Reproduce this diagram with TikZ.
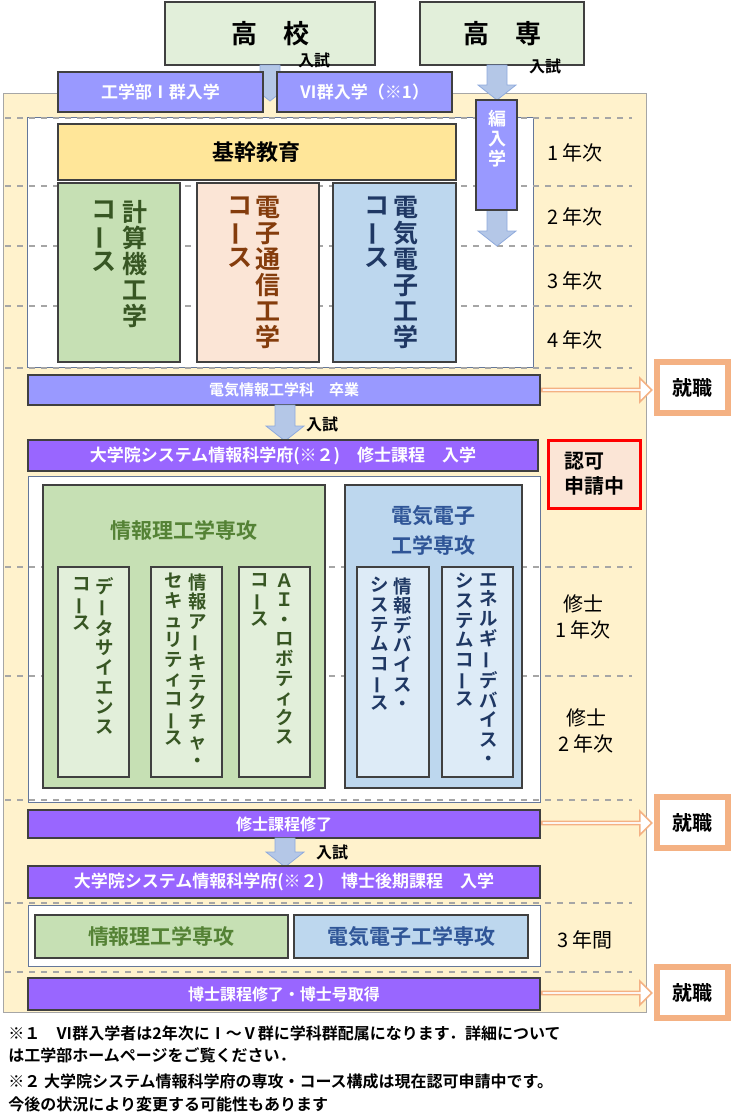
\documentclass[tikz,border=0pt]{standalone}
\usepackage{fontspec}
\usepackage{graphicx}
\setmainfont{Noto Sans CJK JP}
\newfontfamily\gfont{Noto Sans CJK JP}[BoldFont={* Bold}]
\usetikzlibrary{shapes.arrows}

\definecolor{cream}{HTML}{FFF2CC}
\definecolor{lgreen}{HTML}{E2EFDA}
\definecolor{lavender}{HTML}{9999FF}
\definecolor{violet}{HTML}{9966FF}
\definecolor{gold}{HTML}{FFE699}
\definecolor{cgreen}{HTML}{C6E0B4}
\definecolor{cpeach}{HTML}{FBE5D6}
\definecolor{cblue}{HTML}{BDD7EE}
\definecolor{pgreen}{HTML}{E2EFDA}
\definecolor{pblue}{HTML}{DDEBF7}
\definecolor{tgreen}{HTML}{375623}
\definecolor{tgreenl}{HTML}{548235}
\definecolor{tbrown}{HTML}{843C0C}
\definecolor{tnavy}{HTML}{1F3864}
\definecolor{tblue}{HTML}{2F5597}
\definecolor{arrowfill}{HTML}{B4C7E7}
\definecolor{arrowline}{HTML}{8FAADC}
\definecolor{orng}{HTML}{F4B183}

% box from corner (x1,y1) to (x2,y2), in pixels
\newcommand\bx[7]{\node[#1, minimum width={(#5-#3)*0.5pt}, minimum height={(#6-#4)*0.5pt}]
  (#2) at ({(#3+#5)/2},{(#4+#6)/2}) {#7};}
% fat down arrow at x from y1 to y2
\newcommand\dn[3]{\draw[arrowline, fill=arrowfill] ({#1-10},#2) -- ({#1+10},#2) -- ({#1+10},{#3-15})
  -- ({#1+19},{#3-15}) -- (#1,#3) -- ({#1-19},{#3-15}) -- ({#1-10},{#3-15}) -- cycle;}
\newcommand\vb{\rotatebox[origin=c]{90}{ー}}

\begin{document}
\begin{tikzpicture}[x=0.5pt, y=-0.5pt,
  base/.style = {inner sep=0pt, outer sep=0pt, font=\gfont\bfseries},
  plain/.style = {base, draw=black!75, thick},
  bar/.style = {base, draw=black!75, thick, text=white},
  frame/.style = {base, draw=arrowline!70!black},
  vtext/.style = {inner sep=0pt, align=center, anchor=north},
  year/.style = {inner sep=0pt, font=\fontsize{10}{13}\selectfont, align=center},
  job/.style = {base, draw=orng, line width=3pt, fill=white, font=\gfont\bfseries\fontsize{10}{12}\selectfont},
  grid/.style = {gray!70, dashed, thick},
  jobarrow/.style = {single arrow, draw=orng, fill=white, thick, inner sep=0pt,
    minimum width=12pt, single arrow head extend=2.5pt},
  tag/.style = {inner sep=0pt, font=\gfont\bfseries\fontsize{8}{10}\selectfont},
]
\useasboundingbox (0,0) rectangle (732,1116);

% background
\bx{base, draw=gray!70, fill=cream}{bg}{3}{93}{646}{1012}{}
\bx{frame, fill=white}{ugbox}{27}{117}{533}{367}{}
\bx{frame, fill=white}{msbox}{28}{476}{540}{802}{}
\bx{frame, fill=white}{drbox}{28}{905}{540}{966}{}

% year grid
\foreach \y in {118,186,246,306,368,567,676,800,903,972}
  \draw[grid] (5,\y) -- (632,\y);

% entrance
\bx{plain, fill=lgreen, font=\gfont\bfseries\fontsize{13}{15}\selectfont}{hs}{165}{2}{375}{65}{高　校}
\bx{plain, fill=lgreen, font=\gfont\bfseries\fontsize{13}{15}\selectfont}{kosen}{420}{2}{584}{65}{高　専}
\dn{270}{65}{101}
\node[tag] at (314,60) {入試};
\dn{497}{65}{100}
\node[tag] at (545,66) {入試};

\bx{bar, fill=lavender, font=\gfont\bfseries\fontsize{8.5}{10}\selectfont}{g1}{58}{72}{263}{112}{工学部Ⅰ群入学}
\bx{bar, fill=lavender, font=\gfont\bfseries\fontsize{8.5}{10}\selectfont}{g6}{277}{72}{452}{112}{Ⅵ群入学（※1）}
\dn{497}{205}{246}
\bx{bar, fill=lavender}{trans}{476}{100}{517}{210}{}
\node[vtext, text=white, font=\gfont\bfseries\fontsize{9}{10}\selectfont] at (497,110) {編\\入\\学};

% undergraduate
\bx{plain, fill=gold, font=\gfont\bfseries\fontsize{11}{13}\selectfont}{core}{58}{124}{456}{180}{基幹教育}
\bx{plain, fill=cgreen}{c1}{58}{183}{180}{362}{}
\bx{plain, fill=cpeach}{c2}{197}{183}{319}{362}{}
\bx{plain, fill=cblue}{c3}{333}{183}{456}{362}{}
\begin{scope}[font=\gfont\bfseries\fontsize{12.5}{13}\selectfont]
  \node[vtext, text=tgreen] at (135,200) {計\\算\\機\\工\\学};
  \node[vtext, text=tgreen] at (104,200) {コ\\\vb\\ス};
  \node[vtext, text=tbrown] at (268,196) {電\\子\\通\\信\\工\\学};
  \node[vtext, text=tbrown] at (240,196) {コ\\\vb\\ス};
  \node[vtext, text=tnavy] at (406,196) {電\\気\\電\\子\\工\\学};
  \node[vtext, text=tnavy] at (377,196) {コ\\\vb\\ス};
\end{scope}
\node[year] (y1) at (575,153) {1 年次};
\node[year] (y2) at (575,217) {2 年次};
\node[year] (y3) at (575,281) {3 年次};
\node[year] (y4) at (575,340) {4 年次};

\bx{bar, fill=lavender, font=\gfont\bfseries\fontsize{7.5}{9}\selectfont}{grad}{28}{375}{540}{405}{電気情報工学科　卒業}
\bx{job}{job1}{657}{362}{728}{413}{就職}
\node[jobarrow, minimum height=55pt] (o1) at (596,390) {};

% master
\dn{285}{405}{441}
\node[tag] at (322,424) {入試};
\bx{bar, fill=violet, font=\gfont\bfseries\fontsize{8.5}{10}\selectfont}{msin}{28}{440}{538}{471}{大学院システム情報科学府(※２)　修士課程　入学}
\bx{base, draw=red, line width=1.5pt, fill=cpeach, align=left, font=\gfont\bfseries\fontsize{10}{12.5}\selectfont}{pend}{548}{440}{640}{508}{認可\\申請中}

\bx{plain, fill=cgreen}{info}{43}{485}{325}{788}{}
\bx{plain, fill=cblue}{elec}{345}{485}{522}{788}{}
\node[inner sep=0pt, text=tgreenl, font=\gfont\bfseries\fontsize{10.5}{12}\selectfont] (infot) at (184,530) {情報理工学専攻};
\node[inner sep=0pt, text=tblue, align=center, font=\gfont\bfseries\fontsize{10.5}{15}\selectfont] (elect) at (433,530) {電気電子\\工学専攻};

\bx{plain, fill=pgreen}{s1}{58}{567}{129}{777}{}
\bx{plain, fill=pgreen}{s2}{151}{567}{222}{777}{}
\bx{plain, fill=pgreen}{s3}{239}{567}{310}{777}{}
\bx{plain, fill=pblue}{s4}{357}{567}{429}{777}{}
\bx{plain, fill=pblue}{s5}{442}{567}{513}{777}{}
\begin{scope}[font=\gfont\bfseries\fontsize{9.2}{9.8}\selectfont]
  \node[vtext, text=tgreen] at (105,577) {デ\\\vb\\タ\\サ\\イ\\エ\\ン\\ス};
  \node[vtext, text=tgreen] at (82,577) {コ\\\vb\\ス};
  \node[vtext, text=tgreen] at (198,573) {情\\報\\ア\\\vb\\キ\\テ\\ク\\チ\\ャ\\・};
  \node[vtext, text=tgreen] at (174,573) {セ\\キ\\ュ\\リ\\テ\\ィ\\コ\\\vb\\ス};
  \node[vtext, text=tgreen] at (285,573) {Ａ\\Ｉ\\・\\ロ\\ボ\\テ\\ィ\\ク\\ス};
  \node[vtext, text=tgreen] at (260,573) {コ\\\vb\\ス};
  \node[vtext, text=tnavy] at (403,577) {情\\報\\デ\\バ\\イ\\ス\\・};
  \node[vtext, text=tnavy] at (380,577) {シ\\ス\\テ\\ム\\コ\\\vb\\ス};
  \node[vtext, text=tnavy] at (489,573) {エ\\ネ\\ル\\ギ\\\vb\\デ\\バ\\イ\\ス\\・};
  \node[vtext, text=tnavy] at (465,573) {シ\\ス\\テ\\ム\\コ\\\vb\\ス};
\end{scope}
\node[year] (m1) at (583,617) {修士\\1 年次};
\node[year] (m2) at (586,731) {修士\\2 年次};

\bx{bar, fill=violet, font=\gfont\bfseries\fontsize{8}{10}\selectfont}{msout}{28}{810}{540}{838}{修士課程修了}
\bx{job}{job2}{657}{797}{728}{848}{就職}
\node[jobarrow, minimum height=55pt] (o2) at (596,823) {};

% doctor
\dn{285}{838}{867}
\node[tag] at (332,852) {入試};
\bx{bar, fill=violet, font=\gfont\bfseries\fontsize{8.5}{10}\selectfont}{drin}{28}{866}{540}{898}{大学院システム情報科学府(※２)　博士後期課程　入学}
\bx{plain, fill=cgreen, text=tgreenl, font=\gfont\bfseries\fontsize{10.5}{12}\selectfont}{dinfo}{35}{915}{288}{958}{情報理工学専攻}
\bx{plain, fill=cblue, text=tblue, font=\gfont\bfseries\fontsize{10.5}{12}\selectfont}{delec}{294}{915}{528}{958}{電気電子工学専攻}
\node[year] (d3) at (585,940) {3 年間};

\bx{bar, fill=violet, font=\gfont\bfseries\fontsize{8}{10}\selectfont}{drout}{28}{978}{540}{1010}{博士課程修了・博士号取得}
\bx{job}{job3}{657}{967}{728}{1018}{就職}
\node[jobarrow, minimum height=55pt] (o3) at (596,993) {};

% notes
\begin{scope}[every node/.style={inner sep=0pt, anchor=west, font=\gfont\bfseries\fontsize{8}{10}\selectfont}]
  \node (n1) at (8,1033) {※１　Ⅵ群入学者は2年次にⅠ～Ⅴ群に学科群配属になります．詳細について};
  \node (n2) at (8,1055) {は工学部ホームページをご覧ください．};
  \node (n3) at (8,1081) {※２ 大学院システム情報科学府の専攻・コース構成は現在認可申請中です。};
  \node (n4) at (8,1104) {今後の状況により変更する可能性もあります};
\end{scope}
\end{tikzpicture}
\end{document}
